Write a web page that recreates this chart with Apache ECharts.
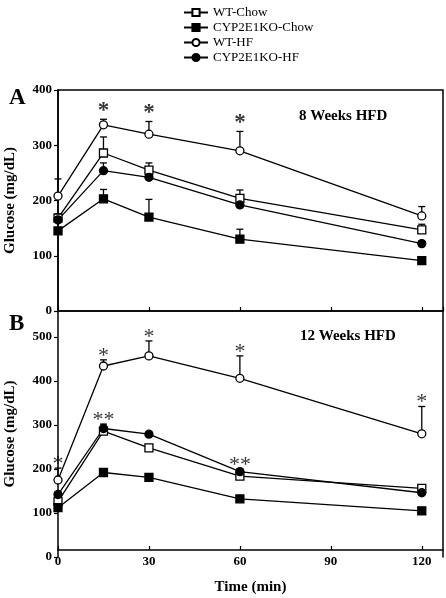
<!DOCTYPE html>
<html>
<head>
<meta charset="utf-8">
<script src="https://cdn.jsdelivr.net/npm/echarts@6/dist/echarts.min.js"></script>
<style>
html,body{margin:0;padding:0;background:#fff;}
#c{width:446px;height:598px;}
</style>
</head>
<body>
<div id="c"></div>
<script>
// ---- data ----
var times = [0, 15, 30, 60, 120];
var seriesNames = ['WT-Chow', 'CYP2E1KO-Chow', 'WT-HF', 'CYP2E1KO-HF'];
var yTicksA = [0, 100, 200, 300, 400];
var yTicksB = [0, 100, 200, 300, 400, 500];
var xTicks = [0, 30, 60, 90, 120];

// Panel A: 8 weeks HFD
var wtChowA = [168, 286, 255, 204, 147];
var wtChowAErr = [8, 29, 13, 15, 10];
var koChowA = [145, 203, 170, 130, 91];
var koChowAErr = [5, 17, 32, 18, 4];
var wtHfA = [208, 337, 320, 290, 172];
var wtHfAErr = [31, 10, 23, 35, 17];
var koHfA = [165, 254, 242, 192, 122];
var koHfAErr = [8, 14, 6, 5, 4];
var sigWtHfA = ['', '*', '*', '*', ''];

// Panel B: 12 weeks HFD
var wtChowB = [126, 286, 248, 184, 156];
var wtChowBErr = [10, 8, 6, 6, 4];
var koChowB = [112, 192, 181, 132, 105];
var koChowBErr = [6, 6, 8, 6, 4];
var wtHfB = [175, 434, 457, 406, 280];
var wtHfBErr = [27, 14, 34, 51, 62];
var koHfB = [142, 292, 279, 194, 146];
var koHfBErr = [6, 10, 5, 6, 5];
var sigWtHfB = ['*', '*', '*', '*', '*'];
var sigKoHfB = ['', '**', '', '**', ''];

// ---- build ----
var SERIF = '"Liberation Serif", "Times New Roman", serif';
var styles = {
  'WT-Chow': {symbol: 'rect', fill: '#fff'},
  'CYP2E1KO-Chow': {symbol: 'rect', fill: '#000'},
  'WT-HF': {symbol: 'circle', fill: '#fff'},
  'CYP2E1KO-HF': {symbol: 'circle', fill: '#000'}
};

function pts(vals) { return times.map(function (t, i) { return [t, vals[i]]; }); }
function errPts(vals, errs) { return times.map(function (t, i) { return [t, vals[i], errs[i]]; }); }

function lineSeries(name, vals, gi) {
  var s = styles[name];
  return {
    type: 'line', name: name, xAxisIndex: gi, yAxisIndex: gi,
    data: pts(vals), symbol: s.symbol, symbolSize: 8, z: 5,
    lineStyle: {color: '#000', width: 1.3},
    itemStyle: {color: s.fill, borderColor: '#000', borderWidth: 1.3},
    emphasis: {disabled: true}, animation: false
  };
}
function errSeries(vals, errs, gi) {
  return {
    type: 'custom', xAxisIndex: gi, yAxisIndex: gi, z: 3, animation: false,
    data: errPts(vals, errs),
    renderItem: function (params, api) {
      var x = api.value(0), m = api.value(1), e = api.value(2);
      var p0 = api.coord([x, m]), p1 = api.coord([x, m + e]);
      var st = {stroke: '#000', lineWidth: 1.3};
      return {type: 'group', children: [
        {type: 'line', shape: {x1: p0[0], y1: p0[1], x2: p1[0], y2: p1[1]}, style: st},
        {type: 'line', shape: {x1: p1[0] - 3.5, y1: p1[1], x2: p1[0] + 3.5, y2: p1[1]}, style: st}
      ]};
    }
  };
}
function sigSeries(vals, errs, sig, gi, bold, dist, size) {
  return {
    type: 'scatter', xAxisIndex: gi, yAxisIndex: gi, symbolSize: 0, z: 6, animation: false,
    silent: true,
    data: times.map(function (t, i) { return {value: [t, vals[i] + errs[i]], s: sig[i]}; }).filter(function (d) { return d.s; }),
    label: {
      show: true, position: 'top', distance: dist,
      formatter: function (p) { return p.data.s; },
      fontFamily: SERIF, fontSize: size, fontWeight: bold ? 'bold' : 'normal', color: '#000'
    }
  };
}

var axisFont = {fontFamily: SERIF, fontSize: 13, fontWeight: 'bold', color: '#000'};

var option = {
  backgroundColor: '#fff',
  animation: false,
  legend: {
    data: seriesNames, orient: 'vertical', left: 183, top: 6, padding: 0,
    itemWidth: 24, itemHeight: 9, itemGap: 2,
    textStyle: {fontFamily: SERIF, fontSize: 13, color: '#000', padding: [0, 0, 0, 0]},
    selectedMode: false
  },
  title: [
    {text: 'A', left: 4, top: 82, textStyle: {fontFamily: SERIF, fontSize: 23, fontWeight: 'bold', color: '#000'}},
    {text: 'B', left: 4, top: 308, textStyle: {fontFamily: SERIF, fontSize: 23, fontWeight: 'bold', color: '#000'}},
    {text: '8 Weeks HFD', left: 294, top: 104, textStyle: {fontFamily: SERIF, fontSize: 15, fontWeight: 'bold', color: '#000'}},
    {text: '12 Weeks HFD', left: 295, top: 324, textStyle: {fontFamily: SERIF, fontSize: 15, fontWeight: 'bold', color: '#000'}}
  ],
  grid: [
    {left: 58, top: 90, width: 385, height: 221, show: true, borderColor: '#000', borderWidth: 1.5, backgroundColor: 'transparent', outerBoundsMode: 'none', containLabel: false},
    {left: 58, top: 311, width: 385, height: 246, outerBoundsMode: 'none', containLabel: false}
  ],
  xAxis: [
    {type: 'value', gridIndex: 0, min: 0, max: 127, interval: 30,
     axisLine: {show: true, lineStyle: {color: '#000', width: 1.5}},
     axisTick: {show: true, inside: true, length: 4, lineStyle: {color: '#000', width: 1.2}},
     axisLabel: {show: false}, splitLine: {show: false}},
    {type: 'value', gridIndex: 1, min: 0, max: 127, interval: 30, offset: -7,
     axisLine: {show: true, lineStyle: {color: '#000', width: 1.5}},
     axisTick: {show: true, inside: true, length: 4, lineStyle: {color: '#000', width: 1.2}},
     axisLabel: Object.assign({showMaxLabel: false, margin: 5}, axisFont), splitLine: {show: false},
     name: 'Time (min)', nameLocation: 'middle', nameGap: 30,
     nameTextStyle: {fontFamily: SERIF, fontSize: 15, fontWeight: 'bold', color: '#000'}}
  ],
  yAxis: [
    {type: 'value', gridIndex: 0, min: 0, max: 400, interval: 100,
     axisLine: {show: true, lineStyle: {color: '#000', width: 1.5}},
     axisTick: {show: true, length: 4, lineStyle: {color: '#000', width: 1.2}},
     axisLabel: Object.assign({margin: 6}, axisFont), splitLine: {show: false},
     name: 'Glucose (mg/dL)', nameLocation: 'middle', nameGap: 40,
     nameTextStyle: {fontFamily: SERIF, fontSize: 15, fontWeight: 'bold', color: '#000'}},
    {type: 'value', gridIndex: 1, min: 0, max: 559, interval: 100,
     axisLine: {show: true, lineStyle: {color: '#000', width: 1.5}},
     axisTick: {show: true, length: 4, lineStyle: {color: '#000', width: 1.2}},
     axisLabel: Object.assign({margin: 6, showMaxLabel: false}, axisFont), splitLine: {show: false},
     name: 'Glucose (mg/dL)', nameLocation: 'middle', nameGap: 40,
     nameTextStyle: {fontFamily: SERIF, fontSize: 15, fontWeight: 'bold', color: '#000'}},
    {type: 'value', gridIndex: 1, position: 'right', min: 0, max: 559,
     axisLine: {show: true, lineStyle: {color: '#000', width: 1.5}},
     axisTick: {show: false}, axisLabel: {show: false}, splitLine: {show: false}}
  ],
  series: [
    errSeries(wtChowA, wtChowAErr, 0),
    errSeries(koChowA, koChowAErr, 0),
    errSeries(wtHfA, wtHfAErr, 0),
    errSeries(koHfA, koHfAErr, 0),
    lineSeries('WT-Chow', wtChowA, 0),
    lineSeries('CYP2E1KO-Chow', koChowA, 0),
    lineSeries('WT-HF', wtHfA, 0),
    lineSeries('CYP2E1KO-HF', koHfA, 0),
    sigSeries(wtHfA, wtHfAErr, sigWtHfA, 0, true, -3, 23),
    errSeries(wtChowB, wtChowBErr, 1),
    errSeries(koChowB, koChowBErr, 1),
    errSeries(wtHfB, wtHfBErr, 1),
    errSeries(koHfB, koHfBErr, 1),
    lineSeries('WT-Chow', wtChowB, 1),
    lineSeries('CYP2E1KO-Chow', koChowB, 1),
    lineSeries('WT-HF', wtHfB, 1),
    lineSeries('CYP2E1KO-HF', koHfB, 1),
    sigSeries(wtHfB, wtHfBErr, sigWtHfB, 1, false, -7, 22),
    sigSeries(koHfB, koHfBErr, sigKoHfB, 1, false, -7, 22)
  ]
};

var chart = echarts.init(document.getElementById('c'), null, {renderer: 'canvas'});
chart.setOption(option);
</script>
</body>
</html>
